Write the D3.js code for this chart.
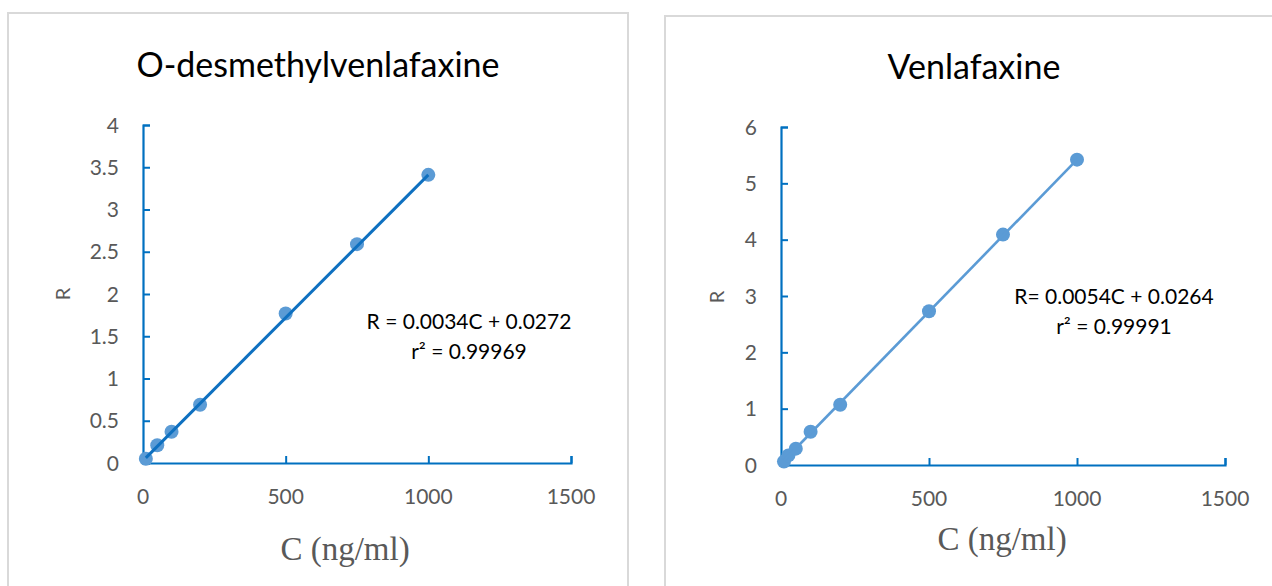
<!DOCTYPE html>
<html>
<head>
<meta charset="utf-8">
<script src="https://cdn.jsdelivr.net/npm/d3@7"></script>
<style>
  body { margin: 0; background: #fff; }
  svg text { font-family: Lato, "Open Sans", sans-serif; }
</style>
</head>
<body>
<div id="chart-area"></div>
<script>
// ---------------- data ----------------
let odvConc = [10, 50, 100, 200, 500, 750, 1000];
let odvRatio = [0.05, 0.21, 0.37, 0.69, 1.77, 2.59, 3.41];
let venConc = [10, 25, 50, 100, 200, 500, 750, 1000];
let venRatio = [0.06, 0.17, 0.29, 0.59, 1.07, 2.73, 4.09, 5.42];

let xTicks = [0, 500, 1000, 1500];
let odvYTicks = [0, 0.5, 1, 1.5, 2, 2.5, 3, 3.5, 4];
let venYTicks = [0, 1, 2, 3, 4, 5, 6];

let odvFit = {slope: 0.0034, intercept: 0.0272};
let venFit = {slope: 0.0054, intercept: 0.0264};

let w = 1272, h = 586;
let axisColor = '#0070c0';

let svg = d3.select('#chart-area').append('svg')
  .attr('width', w)
  .attr('height', h);

function drawPanel(opt) {
  let g = svg.append('g');

  // panel frame
  g.append('rect')
    .attr('x', opt.frame.x).attr('y', opt.frame.y)
    .attr('width', opt.frame.w).attr('height', opt.frame.h)
    .attr('fill', 'none').attr('stroke', '#d9d9d9').attr('stroke-width', 2);

  let xScale = d3.scaleLinear().domain([0, 1500]).range([opt.left, opt.right]);
  let yScale = d3.scaleLinear().domain([0, opt.yMax]).range([opt.bottom, opt.top]);

  // axes (ticks point inward)
  let xAxis = d3.axisTop(xScale).tickValues(xTicks).tickSize(7).tickFormat('');
  let xg = g.append('g').attr('transform', 'translate(0,' + opt.bottom + ')').call(xAxis);
  let yAxis = d3.axisRight(yScale).tickValues(opt.yTicks).tickSize(7).tickFormat('');
  let yg = g.append('g').attr('transform', 'translate(' + opt.left + ',0)').call(yAxis);
  [xg, yg].forEach(function (a) {
    a.select('.domain').attr('stroke', axisColor).attr('stroke-width', 2.2);
    a.selectAll('.tick line').attr('stroke', axisColor).attr('stroke-width', 2);
  });
  xg.selectAll('.tick').filter(d => d === 0).remove();

  // tick labels
  g.selectAll('.xlab').data(xTicks).enter().append('text')
    .attr('x', d => xScale(d))
    .attr('y', opt.bottom + 41)
    .attr('text-anchor', 'middle')
    .attr('font-size', 21).attr('fill', '#595959')
    .text(d => d);
  g.selectAll('.ylab').data(opt.yTicks).enter().append('text')
    .attr('x', opt.left - 24)
    .attr('y', d => yScale(d) + 7.5)
    .attr('text-anchor', 'end')
    .attr('font-size', 21).attr('fill', '#595959')
    .text(d => d);

  // title and axis labels
  g.append('text').text(opt.title)
    .attr('x', opt.titleX).attr('y', opt.titleY)
    .attr('text-anchor', 'middle').attr('font-size', 34).attr('fill', '#000');

  g.append('text').text('R')
    .attr('font-size', 20).attr('fill', '#595959')
    .attr('text-anchor', 'middle')
    .attr('transform', 'translate(' + opt.rX + ',' + opt.rY + ') rotate(-90)');

  g.append('text').text('C (ng/ml)')
    .attr('x', opt.cX).attr('y', opt.cY)
    .attr('text-anchor', 'middle')
    .attr('font-size', 33).attr('fill', '#595959')
    .style('font-family', '"Liberation Serif", "DejaVu Serif", serif');

  // points
  let pts = opt.conc.map((c, i) => [c, opt.ratio[i]]);
  g.selectAll('.pt').data(pts).enter().append('circle')
    .attr('cx', d => xScale(d[0]))
    .attr('cy', d => yScale(d[1]))
    .attr('r', 7)
    .attr('fill', opt.pointColor);

  // regression line
  let x0 = opt.conc[0], x1 = opt.conc[opt.conc.length - 1];
  let line = d3.line().x(d => xScale(d[0])).y(d => yScale(d[1]));
  g.append('path')
    .datum([[x0, opt.fit.slope * x0 + opt.fit.intercept], [x1, opt.ratio[opt.ratio.length - 1]]])
    .attr('d', line)
    .attr('fill', 'none')
    .attr('stroke', opt.lineColor)
    .attr('stroke-width', opt.lineWidth);

  // equation
  let eq = g.append('text').attr('font-size', 21).attr('fill', '#000').attr('text-anchor', 'middle');
  eq.append('tspan').attr('x', opt.eqX).attr('y', opt.eqY).text(opt.eq1);
  eq.append('tspan').attr('x', opt.eqX).attr('y', opt.eqY + 30).text(opt.eq2);
}

drawPanel({
  frame: {x: 8, y: 13, w: 620, h: 590},
  left: 143, right: 571, top: 125, bottom: 463,
  yMax: 4, yTicks: odvYTicks,
  conc: odvConc, ratio: odvRatio, fit: odvFit,
  pointColor: '#5b9bd5', lineColor: '#0e70c0', lineWidth: 3,
  title: 'O-desmethylvenlafaxine', titleX: 318, titleY: 77,
  rX: 70, rY: 294, cX: 345, cY: 560,
  eq1: 'R = 0.0034C + 0.0272', eq2: 'r\u00b2 = 0.99969', eqX: 469, eqY: 329
});

drawPanel({
  frame: {x: 665, y: 16, w: 620, h: 590},
  left: 781, right: 1225, top: 127, bottom: 465,
  yMax: 6, yTicks: venYTicks,
  conc: venConc, ratio: venRatio, fit: venFit,
  pointColor: '#5b9bd5', lineColor: '#5b9bd5', lineWidth: 2.6,
  title: 'Venlafaxine', titleX: 974, titleY: 79,
  rX: 724, rY: 297, cX: 1002, cY: 550,
  eq1: 'R= 0.0054C + 0.0264', eq2: 'r\u00b2 = 0.99991', eqX: 1114, eqY: 304
});
</script>
</body>
</html>
